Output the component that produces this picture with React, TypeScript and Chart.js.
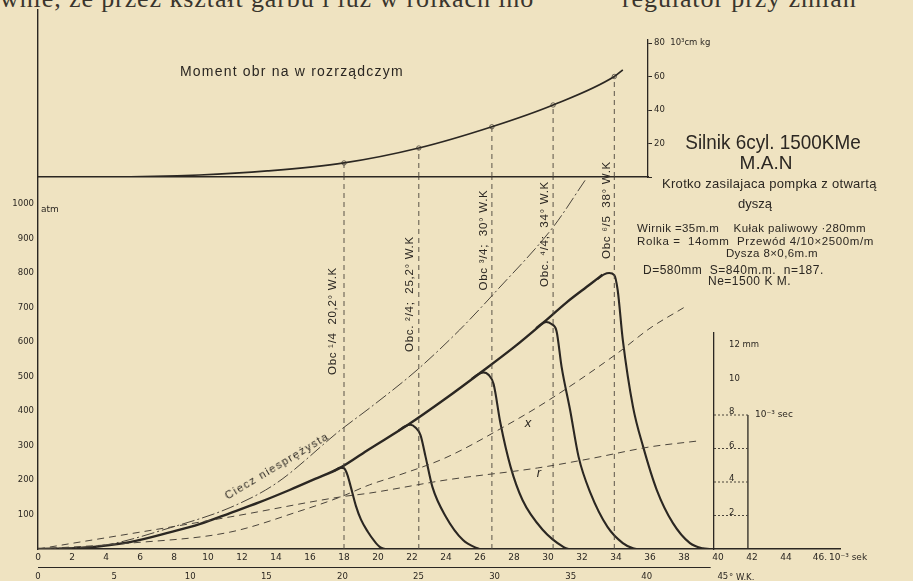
import React, { useEffect, useRef } from "react";
import { Chart, registerables } from "chart.js";

Chart.register(...registerables);

// ---------------- data ----------------
// time in 10^-3 s, pressure in atm
const envelope: [number, number][] = [
  [0, 0], [2.5, 3], [5.4, 20], [7.8, 49], [9.5, 72], [11.3, 104], [13, 135],
  [14.8, 171], [16.3, 203], [17.8, 236], [19.5, 290], [21.7, 358], [24, 437],
  [26, 510], [28, 585], [29.7, 655], [31.1, 715], [32.5, 768], [33.2, 795],
];
const branch1: [number, number][] = [
  [17.4, 226], [17.8, 236], [18.0, 234], [18.2, 215], [18.4, 180], [18.7, 125],
  [19.0, 85], [19.4, 50], [19.8, 22], [20.1, 6], [20.4, 0],
];
const branch2: [number, number][] = [
  [21.2, 343], [21.6, 356], [21.9, 360], [22.2, 352], [22.5, 330], [22.8, 267],
  [23.2, 180], [24.0, 93], [25.0, 26], [25.8, 3], [26.0, 0],
];
const branch3: [number, number][] = [
  [25.5, 492], [25.9, 507], [26.2, 512], [26.5, 505], [26.8, 478], [27.2, 365],
  [27.8, 238], [28.5, 142], [29.7, 55], [30.9, 6], [31.2, 0],
];
const branch4: [number, number][] = [
  [29.3, 640], [29.6, 652], [29.9, 658], [30.2, 652], [30.5, 632], [30.8, 528],
  [31.3, 403], [31.8, 267], [32.5, 162], [33.5, 64], [34.4, 17], [35.0, 2], [35.2, 0],
];
const branch5: [number, number][] = [
  [32.9, 782], [33.3, 796], [33.6, 800], [33.9, 794], [34.1, 750], [34.4, 606],
  [35.0, 412], [35.6, 296], [36.4, 171], [37.35, 75], [38.35, 17], [39.1, 2], [39.5, 0],
];
const cieczCurve: [number, number][] = [
  [0, 0], [4, 12], [7.8, 62], [11.3, 120], [14, 190], [17.8, 345], [19.6, 412],
  [22.3, 519], [24.8, 635], [27, 750], [30.3, 933], [32.2, 1070],
];
const xCurve: [number, number][] = [
  [0, 0], [5.4, 17], [11.3, 49], [15.4, 110], [17.8, 151], [19.5, 186], [21.1, 212],
  [24, 265], [27.4, 354], [30, 430], [34.1, 568], [36, 640], [38, 700],
];
const rCurve: [number, number][] = [
  [0, 0], [11.3, 93], [17.8, 151], [19.5, 162], [24, 200], [29.4, 235], [32.5, 262],
  [36, 296], [38.8, 313],
];
// load points: time, torque (10^3 cm kg)
const loadTimes = [18.0, 22.4, 26.7, 30.3, 33.9];
const loadMoments = [8.4, 17.3, 30, 43, 60];
const loadLabels = [
  "Obc ¹/4  20,2° W.K",
  "Obc. ²/4;  25,2° W.K",
  "Obc ³/4;  30° W.K",
  "Obc. ⁴/4;  34° W.K",
  "Obc ⁶/5  38° W.K",
];
const momentCurve: [number, number][] = [
  [0, 0], [4, 0.05], [9.5, 1.2], [13.5, 3.6], [18, 8.4], [22.4, 17.3],
  [26.7, 30], [30.3, 43], [33.9, 60], [34.4, 64],
];
// small lift panel (mm) and its box
const liftTicksMm = [2, 4, 6, 8];
const boxHeightMm = 8;
const boxEndMs = 41.76;

// ---------------- layout & style ----------------
const W = 913, H = 581;
const X0 = 38;
const PX_PER_MS = 17;
const Y0 = 549;
const PX_PER_ATM = 0.345;
const TOP_BASE = 177;
const TOP_AREA = 40;
const PX_PER_MOM = 1.675;
const MOM_AXIS_X = 648;
const MM_AXIS_X = 714;
const MM_TOP = 333;
const PX_PER_MM = 16.75;
const DEG_PER_MS = 1.117;
const T_MAX = 47.2;
const DEG_LINE_END = 44.2;

const INK = "#2b2722";
const INK2 = "#4a443b";
const PAPER = "#efe3c1";
const FONT = "'DejaVu Sans', 'Liberation Sans', sans-serif";
const LFONT = "'Liberation Sans', 'DejaVu Sans', sans-serif";

const msAt = (px: number) => (px - X0) / PX_PER_MS;
const pts = (a: [number, number][]) => a.map(([x, y]) => ({ x, y }));

function lineDs(data: [number, number][], extra: any = {}) {
  return {
    type: "line",
    data: pts(data),
    borderColor: INK,
    borderWidth: 1,
    pointRadius: 0,
    fill: false,
    cubicInterpolationMode: "monotone",
    ...extra,
  };
}

const degAxisLine = {
  id: "degAxisLine",
  afterDraw(chart: any) {
    const s = chart.scales.x2;
    if (!s) return;
    const ctx = chart.ctx;
    ctx.save();
    ctx.strokeStyle = INK;
    ctx.lineWidth = 1.2;
    ctx.beginPath();
    ctx.moveTo(s.getPixelForValue(0), s.top + 0.5);
    ctx.lineTo(s.getPixelForValue(DEG_LINE_END), s.top + 0.5);
    ctx.stroke();
    ctx.restore();
  },
};

function mainChart(canvas: HTMLCanvasElement) {
  const pMax = (Y0 - 10) / PX_PER_ATM;
  const pPanel = (Y0 - TOP_BASE) / PX_PER_ATM;
  const straight = { cubicInterpolationMode: "default", tension: 0 };
  const datasets: any[] = [
    lineDs(cieczCurve, { borderDash: [13, 3, 2, 3], borderWidth: 1, borderColor: INK2 }),
    lineDs(xCurve, { borderDash: [7, 5], borderWidth: 1, borderColor: INK2 }),
    lineDs(rCurve, { borderDash: [7, 5], borderWidth: 1, borderColor: INK2 }),
    ...loadTimes.map((t) =>
      lineDs([[t, 0], [t, pPanel]], { borderDash: [5, 4], borderWidth: 0.9, borderColor: INK2, ...straight })
    ),
    lineDs(envelope, { borderWidth: 2.4 }),
    ...[branch1, branch2, branch3, branch4, branch5].map((b) => lineDs(b, { borderWidth: 2.1 })),
  ];
  return new Chart(canvas, {
    type: "line",
    data: { datasets },
    plugins: [degAxisLine],
    options: {
      animation: false,
      responsive: false,
      maintainAspectRatio: false,
      events: [],
      layout: { padding: { left: 0, top: 10, bottom: 0, right: W - (X0 + T_MAX * PX_PER_MS) } },
      plugins: { legend: { display: false }, tooltip: { enabled: false } },
      scales: {
        x: {
          type: "linear",
          position: "bottom",
          min: 0,
          max: T_MAX,
          afterFit: (s: any) => { s.height = 18; },
          grid: { display: false, drawTicks: false },
          border: { display: true, color: INK, width: 1.4 },
          ticks: {
            stepSize: 2,
            includeBounds: false,
            autoSkip: false,
            maxRotation: 0,
            padding: 3,
            color: INK,
            font: { family: FONT, size: 9 },
            callback: (v: any) => {
              const n = Math.round(Number(v) * 100) / 100;
              if (n > 46.01) return "";
              return n === 46 ? "46." : String(n);
            },
          },
        },
        x2: {
          type: "linear",
          position: "bottom",
          min: 0,
          max: T_MAX * DEG_PER_MS,
          afterFit: (s: any) => { s.height = 14; },
          grid: { display: false, drawTicks: false },
          border: { display: false },
          ticks: {
            stepSize: 5,
            includeBounds: false,
            autoSkip: false,
            maxRotation: 0,
            padding: 5,
            color: INK,
            font: { family: FONT, size: 8.5 },
            callback: (v: any) => {
              const n = Math.round(Number(v));
              return n <= 45 ? String(n) : "";
            },
          },
        },
        y: {
          type: "linear",
          position: "left",
          min: 0,
          max: pMax,
          afterFit: (s: any) => { s.width = X0; },
          grid: { display: false, drawTicks: false },
          border: { display: true, color: INK, width: 1.4 },
          ticks: {
            stepSize: 100,
            includeBounds: false,
            autoSkip: false,
            padding: 4,
            color: INK,
            font: { family: FONT, size: 8.5 },
            callback: (v: any) => {
              const n = Math.round(Number(v));
              return n >= 100 && n <= 1000 ? String(n) : "";
            },
          },
        },
      },
    } as any,
  });
}

function momentChart(canvas: HTMLCanvasElement) {
  const rightW = 62;
  const mMax = (TOP_BASE - TOP_AREA) / PX_PER_MOM;
  const datasets: any[] = [
    ...loadTimes.map((t, i) =>
      lineDs([[t, 0], [t, loadMoments[i]]], {
        borderDash: [5, 4], borderWidth: 0.9, borderColor: INK2, cubicInterpolationMode: "default", tension: 0,
      })
    ),
    lineDs(momentCurve, { borderWidth: 1.7 }),
    {
      type: "line",
      data: loadTimes.map((t, i) => ({ x: t, y: loadMoments[i] })),
      showLine: false,
      pointRadius: 2.2,
      pointBackgroundColor: PAPER,
      pointBorderColor: INK2,
      pointBorderWidth: 0.8,
    },
  ];
  return new Chart(canvas, {
    type: "line",
    data: { datasets },
    options: {
      animation: false,
      responsive: false,
      maintainAspectRatio: false,
      events: [],
      layout: {
        padding: { left: X0, top: TOP_AREA, bottom: H - TOP_BASE, right: W - MOM_AXIS_X - rightW },
      },
      plugins: { legend: { display: false }, tooltip: { enabled: false } },
      scales: {
        x: {
          type: "linear",
          min: 0,
          max: msAt(MOM_AXIS_X),
          afterFit: (s: any) => { s.height = 0; },
          grid: { display: false, drawTicks: false },
          border: { display: true, color: INK, width: 1.4 },
          ticks: { display: false },
        },
        y: {
          type: "linear",
          position: "right",
          min: 0,
          max: mMax,
          afterFit: (s: any) => { s.width = rightW; },
          grid: { display: true, drawOnChartArea: false, drawTicks: true, tickLength: 4, color: INK, lineWidth: 1 },
          border: { display: true, color: INK, width: 1.3 },
          ticks: {
            stepSize: 20,
            includeBounds: false,
            autoSkip: false,
            padding: 2,
            color: INK,
            font: { family: FONT, size: 8.5 },
            callback: (v: any) => {
              const n = Math.round(Number(v));
              if (n === 80) return "80  10³cm kg";
              return n >= 20 && n < 80 ? String(n) : "";
            },
          },
        },
      },
    } as any,
  });
}

function liftChart(canvas: HTMLCanvasElement) {
  const tAxis = msAt(MM_AXIS_X);
  const xRight = 752;
  const mmMax = (Y0 - MM_TOP) / PX_PER_MM;
  const datasets: any[] = [
    ...liftTicksMm.map((m) =>
      lineDs([[tAxis, m], [boxEndMs, m]], {
        borderDash: [2, 2], borderWidth: 1, borderColor: INK2, cubicInterpolationMode: "default", tension: 0,
      })
    ),
    lineDs([[boxEndMs, 0], [boxEndMs, boxHeightMm]], {
      borderWidth: 1.3, cubicInterpolationMode: "default", tension: 0,
    }),
  ];
  return new Chart(canvas, {
    type: "line",
    data: { datasets },
    options: {
      animation: false,
      responsive: false,
      maintainAspectRatio: false,
      events: [],
      layout: { padding: { left: MM_AXIS_X, top: MM_TOP, bottom: H - Y0, right: W - xRight } },
      plugins: { legend: { display: false }, tooltip: { enabled: false } },
      scales: {
        x: { type: "linear", display: false, min: tAxis, max: msAt(xRight) },
        y: {
          type: "linear",
          position: "left",
          min: 0,
          max: mmMax,
          afterFit: (s: any) => { s.width = 0; },
          grid: { display: false, drawTicks: false },
          border: { display: true, color: INK, width: 1.3 },
          ticks: {
            stepSize: 2,
            includeBounds: false,
            autoSkip: false,
            mirror: true,
            padding: 15,
            labelOffset: -3,
            color: INK,
            font: { family: FONT, size: 8.5 },
            callback: (v: any) => {
              const n = Math.round(Number(v));
              if (n === 12) return "12 mm";
              return n > 0 && n <= 10 ? String(n) : "";
            },
          },
        },
      },
    } as any,
  });
}

type TProps = {
  x: number; y: number; text: string; size?: number; anchor?: "start" | "middle";
  rotate?: number; spacing?: number; italic?: boolean; family?: string; sx?: number;
};
function T({ x, y, text, size = 12, anchor = "start", rotate = 0, spacing = 0, italic, family = LFONT, sx = 1 }: TProps) {
  const tx = anchor === "middle" ? "-50%" : "0";
  return (
    <div
      style={{
        position: "absolute",
        left: x,
        top: y,
        transform: `translate(${tx}, -50%) rotate(${rotate}deg) scaleX(${sx})`,
        transformOrigin: anchor === "middle" ? "50% 50%" : "0 50%",
        fontFamily: family,
        fontSize: size,
        lineHeight: 1,
        letterSpacing: spacing,
        fontStyle: italic ? "italic" : "normal",
        color: INK,
        whiteSpace: "pre",
      }}
    >
      {text}
    </div>
  );
}

const vLabelPos = [
  { x: 333, y: 321 },
  { x: 410, y: 294 },
  { x: 484, y: 240 },
  { x: 545, y: 234 },
  { x: 607, y: 210 },
];

export default function App() {
  const a = useRef<HTMLCanvasElement>(null);
  const b = useRef<HTMLCanvasElement>(null);
  const c = useRef<HTMLCanvasElement>(null);
  useEffect(() => {
    const charts = [mainChart(a.current!), momentChart(b.current!), liftChart(c.current!)];
    return () => charts.forEach((ch) => ch.destroy());
  }, []);
  const cv: React.CSSProperties = { position: "absolute", left: 0, top: 0, width: W, height: H };
  const header: React.CSSProperties = {
    position: "absolute", top: -14, fontFamily: "'Liberation Serif', serif", fontSize: 26,
    lineHeight: "26px", letterSpacing: 0.9, color: "#3a352d", whiteSpace: "pre",
  };
  return (
    <div style={{ position: "fixed", left: 0, top: 0, width: W, height: H, background: PAPER, overflow: "hidden" }}>
      <div style={{ ...header, left: 0 }}>wnie, że przez kształt garbu i luz w rolkach ino</div>
      <div style={{ ...header, left: 622 }}>regulator przy zmian</div>
      <canvas ref={a} width={W} height={H} style={cv} />
      <canvas ref={b} width={W} height={H} style={cv} />
      <canvas ref={c} width={W} height={H} style={cv} />

      <T x={180} y={71} text="Moment obr na w rozrządczym" size={14} spacing={1.2} />
      <T x={773} y={141} text="Silnik 6cyl. 1500KMe" size={21} anchor="middle" sx={0.9} />
      <T x={766} y={162} text="M.A.N" size={19} anchor="middle" />
      <T x={662} y={183} text="Krotko zasilajaca pompka z otwartą" size={13} spacing={0.3} />
      <T x={755} y={203} text="dyszą" size={13} anchor="middle" />
      <T x={637} y={229} text="Wirnik =35m.m    Kułak paliwowy ·280mm" size={11.5} spacing={0.4} />
      <T x={637} y={242} text="Rolka =  14omm  Przewód 4/10×2500m/m" size={11.5} spacing={0.6} />
      <T x={772} y={254} text="Dysza 8×0,6m.m" size={11.5} anchor="middle" spacing={0.4} />
      <T x={643} y={270} text="D=580mm  S=840m.m.  n=187." size={12} spacing={0.5} />
      <T x={708} y={281} text="Ne=1500 K M." size={12} spacing={0.5} />

      <T x={41} y={209} text="atm" size={9} family={FONT} />
      <T x={829} y={557} text="10⁻³ sek" size={9} family={FONT} />
      <T x={729} y={577} text="° W.K." size={8.5} family={FONT} />
      <T x={755} y={414} text="10⁻³ sec" size={9} family={FONT} />
      <T x={528} y={422} text="x" size={13} anchor="middle" italic />
      <T x={539} y={472} text="r" size={13} anchor="middle" italic />
      <T x={277} y={466} text="Ciecz niesprężysta" size={11} anchor="middle" rotate={-31} spacing={1.5} />

      {loadLabels.map((s, i) => (
        <T key={s} x={vLabelPos[i].x} y={vLabelPos[i].y} text={s} size={11.5} anchor="middle" rotate={-90} spacing={0.7} />
      ))}
    </div>
  );
}
